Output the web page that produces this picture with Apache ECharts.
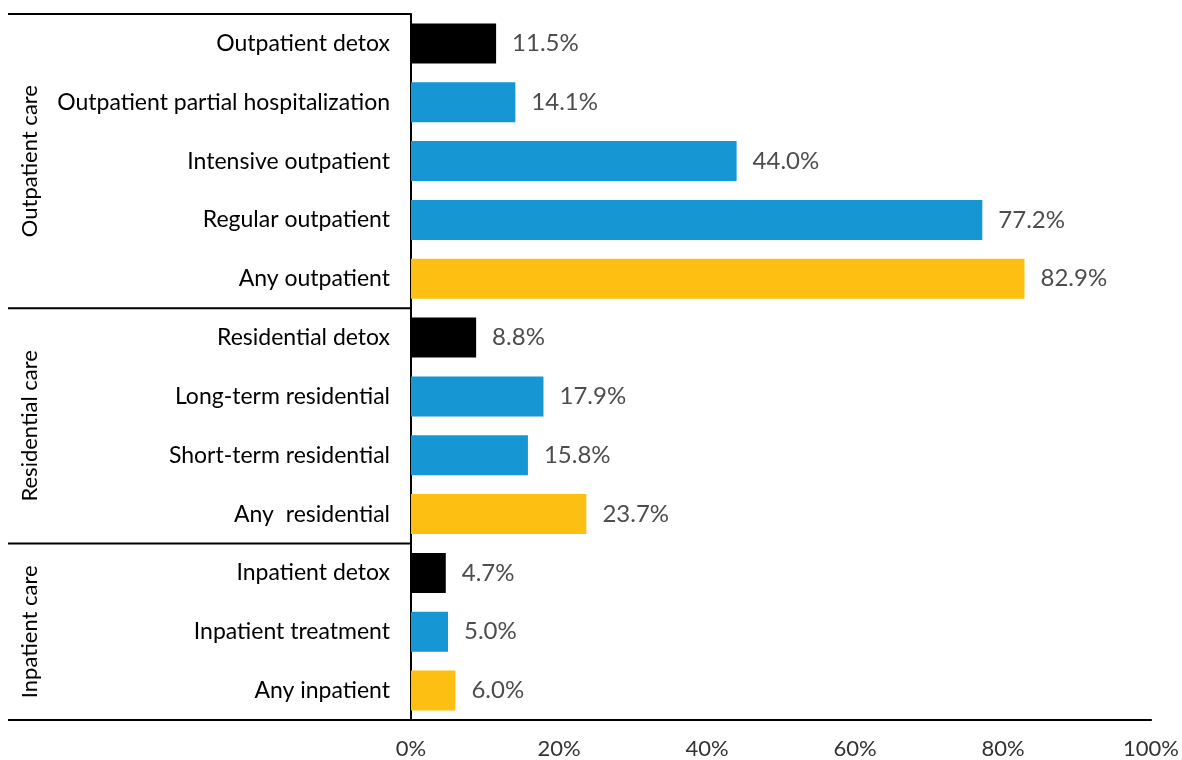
<!DOCTYPE html>
<html>
<head>
<meta charset="utf-8">
<script src="https://cdn.jsdelivr.net/npm/echarts@6/dist/echarts.min.js"></script>
<style>
  html, body { margin: 0; padding: 0; background: #fff; }
  #chart { width: 1182px; height: 760px; }
</style>
</head>
<body>
<div id="chart"></div>
<script>
// Treatment settings, top to bottom
const categories = [
  'Outpatient detox', 'Outpatient partial hospitalization', 'Intensive outpatient',
  'Regular outpatient', 'Any outpatient',
  'Residential detox', 'Long-term residential', 'Short-term residential', 'Any  residential',
  'Inpatient detox', 'Inpatient treatment', 'Any inpatient'
];
// Share of facilities offering each setting (%)
const values = [11.5, 14.1, 44.0, 77.2, 82.9, 8.8, 17.9, 15.8, 23.7, 4.7, 5.0, 6.0];
// Kind of service per row: detox, treatment, or any
const kinds = ['detox', 'treatment', 'treatment', 'treatment', 'any',
               'detox', 'treatment', 'treatment', 'any',
               'detox', 'treatment', 'any'];
// Group headings and how many rows each spans
const groupNames = ['Outpatient care', 'Residential care', 'Inpatient care'];
const groupSizes = [5, 4, 3];
const xTicks = [0, 20, 40, 60, 80, 100];

const kindColor = { detox: '#000000', treatment: '#1696d2', any: '#fdbf11' };
const FONT = 'Lato, "Open Sans", sans-serif';

const chart = echarts.init(document.getElementById('chart'), null, { renderer: 'canvas' });

const option = {
  animation: false,
  backgroundColor: '#ffffff',
  grid: { left: 411, right: 29, top: 14, bottom: 40, containLabel: false },
  xAxis: {
    type: 'value',
    min: xTicks[0],
    max: xTicks[xTicks.length - 1],
    interval: 20,
    axisLine: { show: true, lineStyle: { color: '#000', width: 2 } },
    axisTick: { show: false },
    splitLine: { show: false },
    axisLabel: {
      formatter: v => v + '%',
      fontFamily: FONT, fontSize: 22, color: '#333', margin: 18
    }
  },
  yAxis: {
    type: 'category',
    inverse: true,
    data: categories,
    axisLine: { show: true, lineStyle: { color: '#000', width: 2 } },
    axisTick: { show: false },
    axisLabel: { fontFamily: FONT, fontSize: 23, color: '#000', margin: 21 }
  },
  series: [{
    type: 'bar',
    barWidth: 40,
    data: values.map((v, i) => ({ value: v, itemStyle: { color: kindColor[kinds[i]] } })),
    label: {
      show: true,
      position: 'right',
      distance: 16,
      formatter: p => p.value.toFixed(1) + '%',
      fontFamily: FONT, fontSize: 24, color: '#4d4d4d'
    }
  }]
};

chart.setOption(option);

// Group brackets on the left: separator rules and rotated headings
function drawGroups() {
  const y0 = chart.convertToPixel({ yAxisIndex: 0 }, 0);
  const y1 = chart.convertToPixel({ yAxisIndex: 0 }, 1);
  const band = y1 - y0;
  const axisX = chart.convertToPixel({ xAxisIndex: 0 }, 0);
  const leftX = 8;
  const elements = [];
  let start = 0;
  const edge = idx => y0 + (idx - 0.5) * band;
  elements.push({
    type: 'line', shape: { x1: leftX, y1: edge(0), x2: axisX, y2: edge(0) },
    style: { stroke: '#000', lineWidth: 2 }
  });
  groupNames.forEach((name, g) => {
    const end = start + groupSizes[g];
    const top = edge(start), bottom = edge(end);
    elements.push({
      type: 'line', shape: { x1: leftX, y1: bottom, x2: axisX, y2: bottom },
      style: { stroke: '#000', lineWidth: 2 }
    });
    elements.push({
      type: 'text',
      x: 30, y: (top + bottom) / 2,
      rotation: Math.PI / 2,
      style: {
        text: name, fontFamily: FONT, fontSize: 22, fill: '#000',
        align: 'center', verticalAlign: 'middle'
      }
    });
    start = end;
  });
  chart.setOption({ graphic: elements });
}
drawGroups();
</script>
</body>
</html>
